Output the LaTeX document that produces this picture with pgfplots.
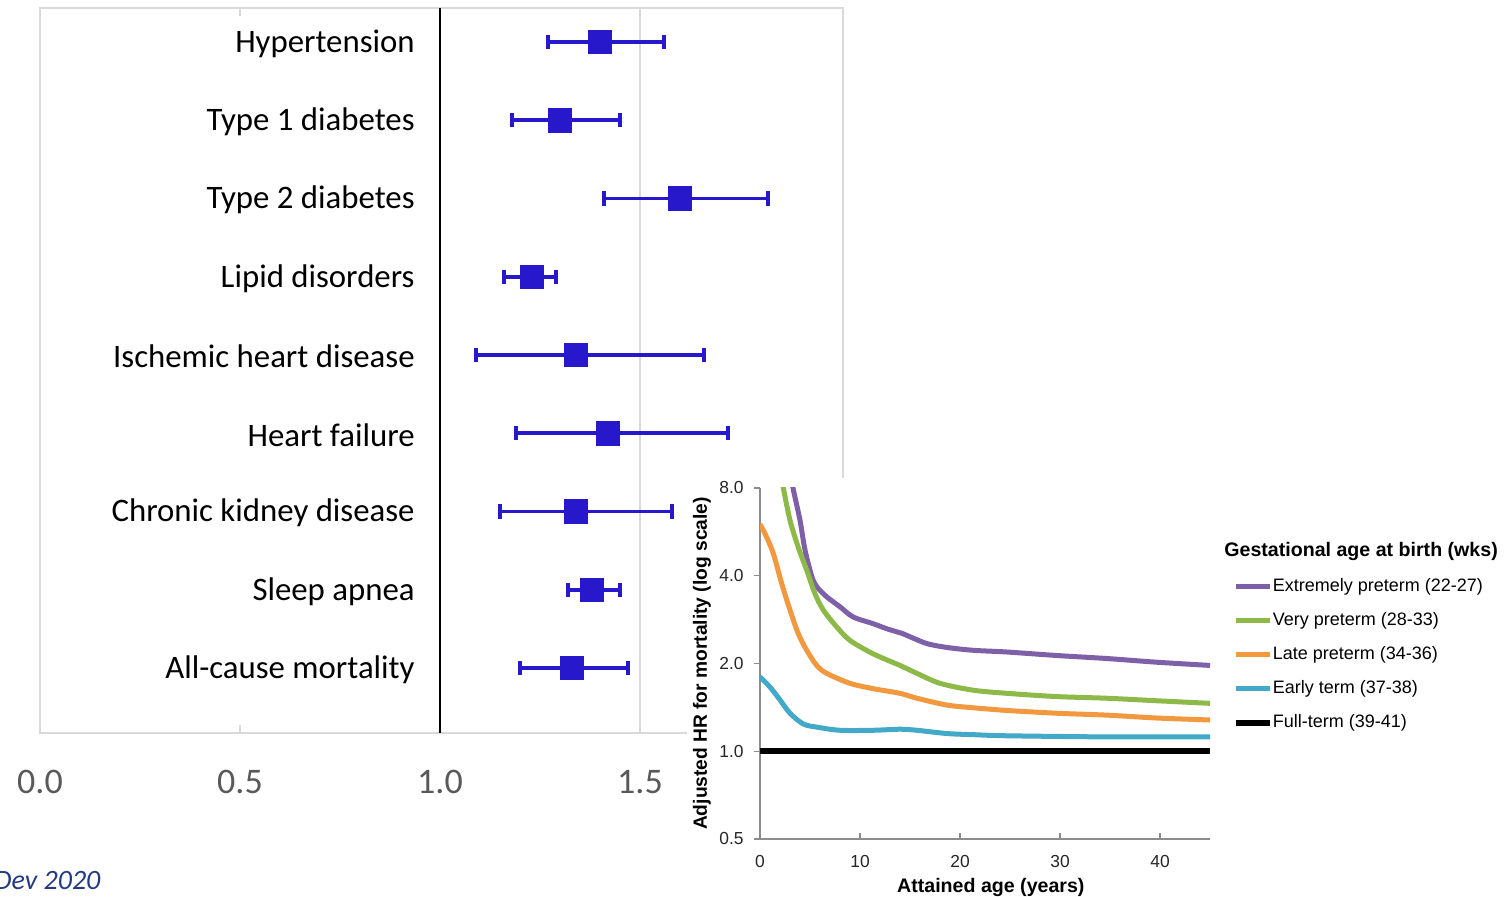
\documentclass[border=0pt]{standalone}
\usepackage{fontspec}
\setmainfont{Carlito}
\newfontfamily\arial{Liberation Sans}
\usepackage{pgfplots}
\pgfplotsset{compat=1.18}
\usepackage{pgfplotstable}

\definecolor{forestblue}{RGB}{40,24,204}
\definecolor{tickgray}{RGB}{89,89,89}
\definecolor{boxgray}{RGB}{217,217,217}
\definecolor{cPurple}{RGB}{126,96,168}
\definecolor{cGreen}{RGB}{141,185,72}
\definecolor{cOrange}{RGB}{242,152,62}
\definecolor{cCyan}{RGB}{66,170,200}
\definecolor{srcblue}{RGB}{36,58,130}

% Hazard ratios with 95% confidence limits (row 9 = top)
\pgfplotstableread{
row est lo hi
9 1.40 1.27 1.56
8 1.30 1.18 1.45
7 1.60 1.41 1.82
6 1.23 1.16 1.29
5 1.34 1.09 1.66
4 1.42 1.19 1.72
3 1.34 1.15 1.58
2 1.38 1.32 1.45
1 1.33 1.20 1.47
}\forestdata

% Adjusted HR for mortality by attained age
\pgfplotstableread{
age hr
2.9 9.6
3.3 8.0
4.0 6.2
4.5 4.9
5.2 3.96
5.7 3.66
6.7 3.38
8.0 3.13
9.3 2.89
11.3 2.74
12.7 2.63
14.3 2.53
15.0 2.47
16.7 2.34
18.7 2.27
21.3 2.22
24.7 2.19
29.7 2.13
34.7 2.08
39.7 2.02
45 1.97
}\extremely

\pgfplotstableread{
age hr
2.0 9.1
2.33 8.0
3.0 6.2
3.83 5.0
4.67 4.18
5.5 3.47
6.33 3.05
7.67 2.67
9.0 2.40
11.3 2.16
14.0 1.97
15.7 1.85
18.0 1.71
21.3 1.62
24.7 1.58
29.7 1.54
34.7 1.52
39.7 1.49
45 1.46
}\verypre

\pgfplotstableread{
age hr
0 6.0
0.5 5.58
1.33 4.77
2.17 3.76
3.0 3.05
3.83 2.53
4.67 2.22
5.67 1.97
6.67 1.85
9.0 1.71
11.3 1.64
14.0 1.58
15.7 1.52
18.7 1.44
21.3 1.41
24.7 1.38
29.7 1.35
34.7 1.33
39.7 1.30
45 1.28
}\latepre

\pgfplotstableread{
age hr
0 1.80
1.0 1.66
2.0 1.50
3.0 1.35
4.33 1.24
5.67 1.21
8.0 1.18
11.3 1.18
14.0 1.19
15.7 1.18
18.7 1.15
21.3 1.14
24.7 1.13
34.7 1.12
45 1.12
}\earlyterm

\pgfplotstableread{
age hr
0 1.0
45 1.0
}\fullterm

\begin{document}
\begin{tikzpicture}
\useasboundingbox (0pt,0pt) rectangle (754pt,448.5pt);

% ---- forest plot ----
\begin{axis}[
  at={(20pt,82pt)}, anchor=south west, scale only axis,
  width=401.5pt, height=362.5pt,
  xmin=0, xmax=2.0075, ymin=0.17, ymax=9.434,
  axis line style={boxgray, line width=0.8pt},
  xtick={0,0.5,1,1.5}, xticklabels={0.0,0.5,1.0,1.5},
  ytick={1,2,3,4,5,6,7,8,9},
  yticklabels={All-cause mortality, Sleep apnea, Chronic kidney disease,
    Heart failure, Ischemic heart disease, Lipid disorders,
    Type 2 diabetes, Type 1 diabetes, Hypertension},
  ytick style={draw=none},
  xtick style={boxgray, line width=0.8pt},
  major tick length=4pt, tick align=inside,
  xticklabel style={font=\fontsize{18}{20}\selectfont, text=tickgray, inner sep=0pt, yshift=-18.5pt},
  yticklabel style={font=\fontsize{16.4}{18}\selectfont, text=black, inner sep=0pt, anchor=east, xshift=187.5pt, yshift=-0.8pt},
  /pgf/number format/assume math mode=true,
  clip=false,
]
\addplot[boxgray, line width=0.8pt] coordinates {(1.5,0.17) (1.5,9.434)};
\addplot[black, line width=1.2pt] coordinates {(1,0.17) (1,9.434)};
\addplot[only marks, mark=square*, mark size=5.9pt, color=forestblue,
  error bars/.cd, x dir=both, x explicit, error mark=|,
  error bar style={line width=1.8pt},
  error mark options={mark size=3.6pt, line width=1.6pt}]
  table[x=est, y=row,
    x error plus expr=\thisrow{hi}-\thisrow{est},
    x error minus expr=\thisrow{est}-\thisrow{lo}] {\forestdata};
\end{axis}

\node[anchor=base west, font=\itshape\fontsize{14}{16}\selectfont, text=srcblue, inner sep=0pt]
  at (-3pt,3.5pt) {Dev 2020};

% ---- mortality by gestational age ----
\fill[white] (343.5pt,0pt) rectangle (754pt,209.5pt);

\begin{axis}[
  at={(380pt,29pt)}, anchor=south west, scale only axis,
  width=225pt, height=175.5pt,
  xmin=0, xmax=45, ymode=log, log basis y=2, ymin=0.5, ymax=8,
  ytick={0.5,1,2,4,8}, yticklabels={0.5,1.0,2.0,4.0,8.0},
  xtick={0,10,20,30,40},
  axis x line*=bottom, axis y line*=left,
  axis line style={black!45, line width=0.6pt},
  tick style={black!45, line width=0.6pt},
  major tick length=3pt,
  ytick align=outside, xtick align=inside,
  yticklabel style={font=\arial\fontsize{8.7}{10}\selectfont, text=black!85, inner sep=0pt, xshift=-5pt},
  xticklabel style={font=\arial\fontsize{8.7}{10}\selectfont, text=black!85, inner sep=0pt, yshift=-8pt},
  /pgf/number format/assume math mode=true,
  ylabel={\bfseries Adjusted HR for mortality (log scale)},
  ylabel style={font=\arial\fontsize{9.6}{11}\selectfont, at={(axis description cs:-0.129,0.5)}, anchor=center},
  xlabel={\bfseries Attained age (years)},
  xlabel style={font=\arial\fontsize{9.8}{11}\selectfont, at={(axis description cs:0.513,-0.137)}, anchor=center},
  legend style={at={(axis description cs:1.049,0.744)}, anchor=north west, draw=none, fill=none,
    inner sep=0pt, row sep=8.5pt, font=\arial\fontsize{9}{10}\selectfont,
    nodes={inner sep=0pt, anchor=west, text height=6.5pt, text depth=2pt}},
  legend cell align=left,
  legend image code/.code={\draw[#1] (0pt,0pt) -- (17pt,0pt);},
]
\addplot[cPurple, line width=2.5pt, smooth] table[x=age, y=hr] {\extremely};
\addlegendentry{Extremely preterm (22-27)}
\addplot[cGreen, line width=2.5pt, smooth] table[x=age, y=hr] {\verypre};
\addlegendentry{Very preterm (28-33)}
\addplot[cOrange, line width=2.5pt, smooth] table[x=age, y=hr] {\latepre};
\addlegendentry{Late preterm (34-36)}
\addplot[cCyan, line width=2.5pt, smooth] table[x=age, y=hr] {\earlyterm};
\addlegendentry{Early term (37-38)}
\addplot[black, line width=3.2pt] table[x=age, y=hr] {\fullterm};
\addlegendentry{Full-term (39-41)}
\end{axis}

\node[anchor=west, inner sep=0pt, font=\arial\bfseries\fontsize{9.8}{11}\selectfont]
  at (612pt,173pt) {Gestational age at birth (wks)};
\end{tikzpicture}
\end{document}
